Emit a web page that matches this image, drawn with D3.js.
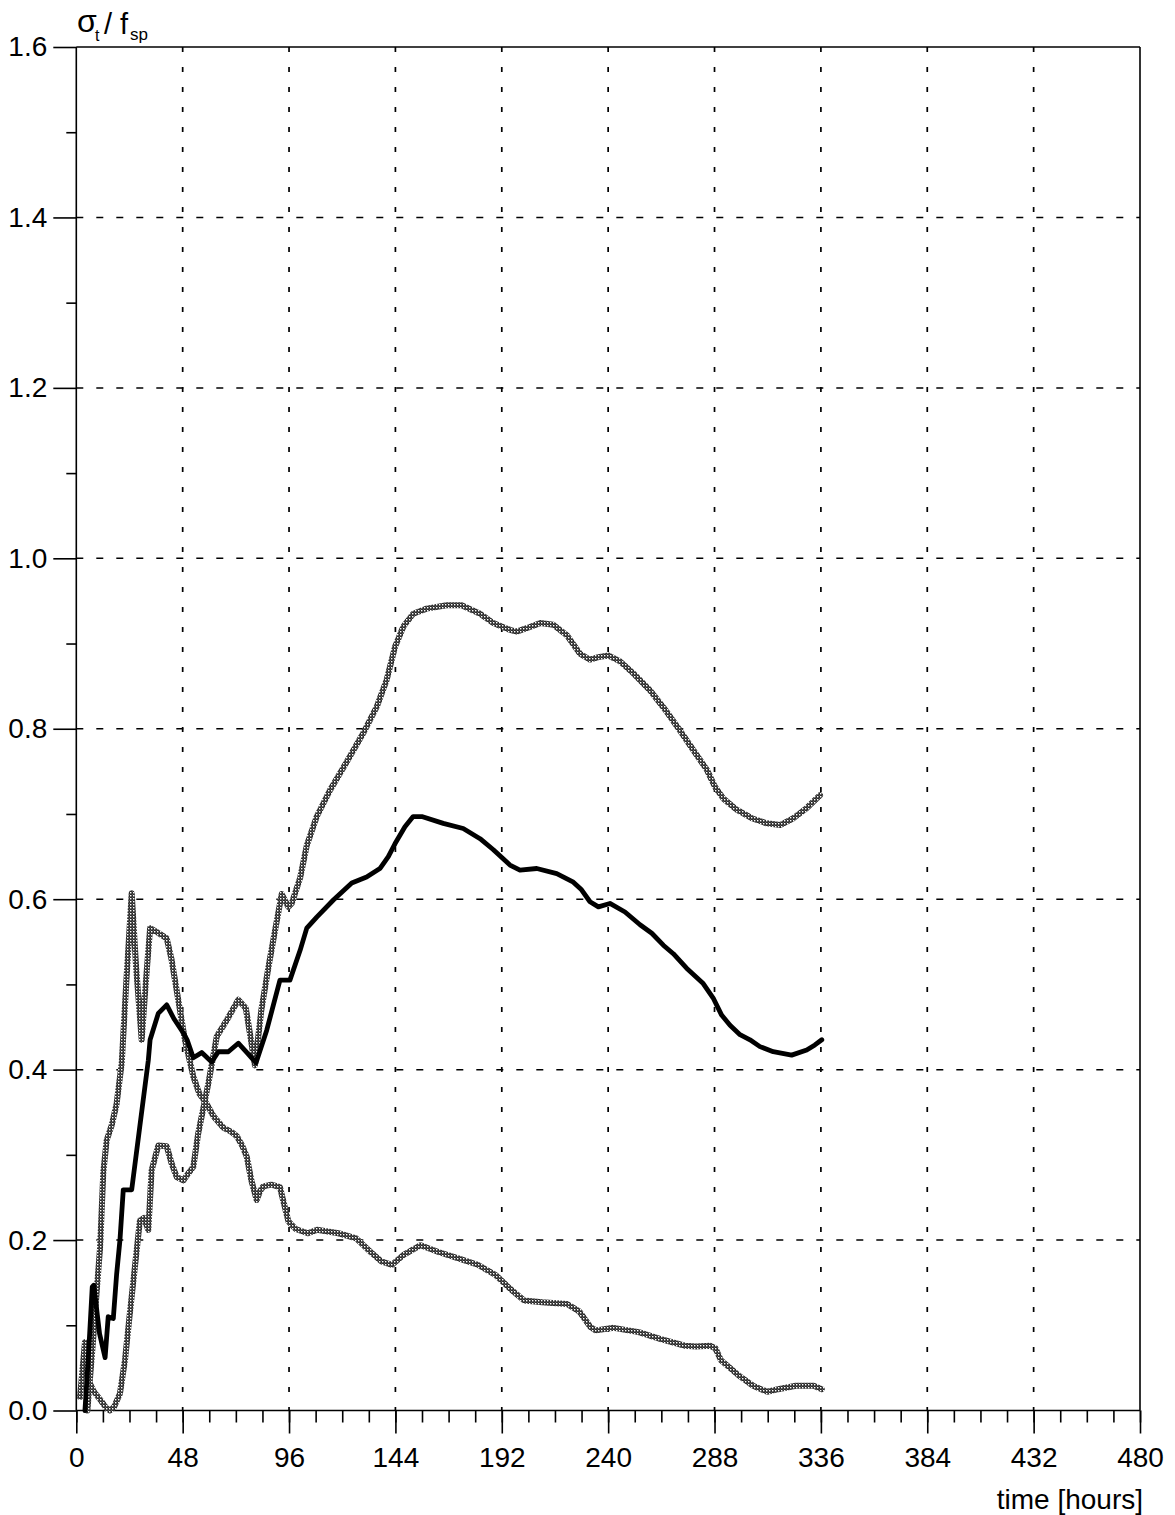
<!DOCTYPE html>
<html>
<head>
<meta charset="utf-8">
<script src="https://cdn.jsdelivr.net/npm/d3@7"></script>
<style>
  html, body { margin: 0; padding: 0; background: #fff; }
  svg { display: block; }
  text { font-family: "Liberation Sans", Arial, sans-serif; fill: #000; }
</style>
</head>
<body>
<svg id="chart" width="1175" height="1515"></svg>
<script>
// Tensile stress ratio sigma_t / f_sp over time (hours)

// Mean curve (bold black)
const timeMean = [3.9, 5.6, 7.2, 7.9, 10.5, 13, 14.4, 16.7, 18.2, 19.7, 21.2, 25, 28.5, 32.5, 33.3, 37, 40.8, 44, 48.3, 50, 52.8, 56.6, 61.1, 64.1, 68.6, 73.1, 77, 81.1, 85.9, 91.9, 96.4, 101, 104, 108.5, 116, 124.3, 131, 137, 140.8, 143.8, 148.3, 152, 155.9, 165.6, 174.6, 182.2, 188.2, 195.7, 200.2, 207.8, 216.8, 224.3, 228, 231.8, 235.6, 240.8, 247.6, 254.4, 259.7, 264.9, 269.4, 275.4, 282.9, 287.4, 291.2, 295, 299.5, 304, 308.5, 314.5, 322.8, 329.6, 333.3, 336.4];
const ratioMean = [0.0, 0.07, 0.145, 0.147, 0.09, 0.062, 0.11, 0.108, 0.16, 0.2, 0.259, 0.259, 0.33, 0.411, 0.435, 0.466, 0.476, 0.46, 0.443, 0.435, 0.414, 0.42, 0.409, 0.421, 0.421, 0.431, 0.42, 0.408, 0.446, 0.505, 0.505, 0.54, 0.566, 0.579, 0.599, 0.619, 0.626, 0.636, 0.65, 0.665, 0.685, 0.697, 0.697, 0.689, 0.683, 0.671, 0.658, 0.64, 0.634, 0.636, 0.63, 0.62, 0.611, 0.597, 0.591, 0.595, 0.585, 0.57, 0.56, 0.546, 0.536, 0.519, 0.501, 0.484, 0.464, 0.452, 0.441, 0.435, 0.427, 0.421, 0.417, 0.423, 0.429, 0.435];

// Upper envelope (grey)
const timeUpper = [1.7, 3.9, 5.5, 8, 11, 13.5, 15.2, 17, 19.7, 22, 24, 26.5, 28.7, 30.5, 32.5, 34, 37, 40.8, 43, 45.3, 48.3, 50.5, 52.8, 55, 59.6, 63.4, 67.9, 73.1, 76.5, 78.5, 80.6, 83.5, 86.7, 88.9, 92.7, 95.7, 97.2, 101, 104, 108.5, 114.5, 122, 129.5, 135.6, 140, 143.8, 147.6, 152, 158.1, 167.1, 173.9, 182.2, 188.2, 195.7, 198.7, 203.2, 209.3, 215.3, 221.3, 227.3, 231.8, 235.6, 240.1, 245.4, 251.4, 258.9, 266.4, 272.4, 278.4, 284.5, 288.2, 292, 298, 304.8, 311.6, 317.6, 323.6, 329.6, 335.6];
const ratioUpper = [0.016, 0.08, 0.035, 0.022, 0.012, 0.003, 0.0, 0.004, 0.02, 0.06, 0.11, 0.17, 0.223, 0.226, 0.212, 0.282, 0.311, 0.31, 0.29, 0.274, 0.27, 0.278, 0.286, 0.325, 0.384, 0.439, 0.458, 0.482, 0.472, 0.44, 0.405, 0.47, 0.52, 0.552, 0.606, 0.591, 0.595, 0.625, 0.663, 0.697, 0.728, 0.761, 0.795, 0.826, 0.857, 0.896, 0.92, 0.935, 0.941, 0.945, 0.945, 0.935, 0.924, 0.916, 0.914, 0.918, 0.924, 0.922, 0.91, 0.888, 0.881, 0.884, 0.886, 0.879, 0.865, 0.845, 0.82, 0.798, 0.775, 0.752, 0.732, 0.718, 0.705, 0.695, 0.689, 0.687, 0.695, 0.707, 0.722];

// Lower envelope (grey)
const timeLower = [5, 7.5, 9.2, 10.7, 12.2, 13.7, 16, 18.2, 20.5, 22.5, 25, 27, 29.5, 31.3, 33.3, 36, 40.8, 43, 46, 49, 52.8, 55.5, 58.8, 62, 66.3, 70, 72.4, 75, 76.9, 79, 81.4, 83, 84.4, 88, 91.9, 93.5, 95.7, 99, 104.5, 108.6, 118.3, 126.3, 132.8, 137.6, 142.5, 147.3, 155.4, 163.4, 173.1, 181.2, 189.2, 195.7, 202.1, 210.2, 221.5, 227.1, 232, 234.4, 242.5, 253.8, 263.4, 274.7, 279.6, 286, 288.4, 290.9, 299, 305.4, 311.8, 316.7, 324.7, 332.8, 336.4];
const ratioLower = [0.0, 0.08, 0.14, 0.19, 0.28, 0.317, 0.335, 0.36, 0.408, 0.5, 0.607, 0.52, 0.435, 0.5, 0.566, 0.562, 0.554, 0.529, 0.482, 0.435, 0.392, 0.372, 0.36, 0.345, 0.332, 0.327, 0.322, 0.31, 0.298, 0.27, 0.247, 0.258, 0.263, 0.265, 0.262, 0.245, 0.222, 0.213, 0.208, 0.212, 0.208, 0.202, 0.186, 0.175, 0.171, 0.182, 0.194, 0.186, 0.178, 0.171, 0.159, 0.143, 0.129, 0.127, 0.125, 0.116, 0.098, 0.094, 0.097, 0.092, 0.084, 0.076, 0.075, 0.076, 0.073, 0.059, 0.041, 0.029, 0.022, 0.025, 0.029, 0.029, 0.025];

// Axis ticks
const xMajorTicks = [0, 48, 96, 144, 192, 240, 288, 336, 384, 432, 480];
const xMinorTicks = d3.range(0, 481, 12);
const yMajorTicks = [0.0, 0.2, 0.4, 0.6, 0.8, 1.0, 1.2, 1.4, 1.6];
const yMinorTicks = [0.1, 0.3, 0.5, 0.7, 0.9, 1.1, 1.3, 1.5];

const svg = d3.select("#chart");

const x = d3.scaleLinear().domain([0, 480]).range([76.3, 1140]);
const y = d3.scaleLinear().domain([0, 1.6]).range([1410.5, 47]);

// Stippled stroke for the envelope curves: dark mesh with small light holes
const defs = svg.append("defs");
const pat = defs.append("pattern")
  .attr("id", "stipple")
  .attr("patternUnits", "userSpaceOnUse")
  .attr("width", 3).attr("height", 3);
pat.append("rect").attr("width", 3).attr("height", 3).attr("fill", "#2a2a2a");
pat.append("rect").attr("x", 1).attr("y", 1).attr("width", 1.4).attr("height", 1.4).attr("fill", "#fff");
pat.append("rect").attr("x", 0).attr("y", 0).attr("width", 0.6).attr("height", 0.6).attr("fill", "#bbb");

// Grid
const grid = svg.append("g");
grid.selectAll("line.vg")
  .data(xMajorTicks.filter(d => d > 0 && d < 480))
  .join("line")
  .attr("x1", d => x(d)).attr("x2", d => x(d))
  .attr("y1", y(1.6)).attr("y2", y(0))
  .attr("stroke", "#000").attr("stroke-width", 1.7)
  .attr("stroke-dasharray", "5,15");
grid.selectAll("line.hg")
  .data(yMajorTicks.filter(d => d > 0 && d < 1.6))
  .join("line")
  .attr("x1", x(0)).attr("x2", x(480))
  .attr("y1", d => y(d)).attr("y2", d => y(d))
  .attr("stroke", "#000").attr("stroke-width", 1.5)
  .attr("stroke-dasharray", "7,13");

// Frame
const frame = svg.append("g").attr("stroke", "#000").attr("stroke-width", 1.6);
frame.append("line").attr("x1", x(0)).attr("x2", x(0)).attr("y1", y(1.6)).attr("y2", y(0));
frame.append("line").attr("x1", x(480)).attr("x2", x(480)).attr("y1", y(1.6)).attr("y2", y(0));
frame.append("line").attr("x1", x(0)).attr("x2", x(480)).attr("y1", y(0)).attr("y2", y(0));
frame.append("line").attr("x1", x(0)).attr("x2", x(480)).attr("y1", y(1.6)).attr("y2", y(1.6));

// Curves
const line = d3.line().x(d => x(d[0])).y(d => y(d[1]));
const curves = svg.append("g").attr("fill", "none")
  .attr("stroke-linejoin", "round").attr("stroke-linecap", "round");

curves.append("path")
  .attr("d", line(d3.zip(timeLower, ratioLower)))
  .attr("stroke", "url(#stipple)").attr("stroke-width", 6);
curves.append("path")
  .attr("d", line(d3.zip(timeUpper, ratioUpper)))
  .attr("stroke", "url(#stipple)").attr("stroke-width", 6);
curves.append("path")
  .attr("d", line(d3.zip(timeMean, ratioMean)))
  .attr("stroke", "#000").attr("stroke-width", 4.8);

// X axis
const xAxisMinor = d3.axisBottom(x).tickValues(xMinorTicks).tickSize(12).tickFormat("");
const xAxisMajor = d3.axisBottom(x).tickValues(xMajorTicks).tickSize(23).tickPadding(14)
  .tickFormat(d3.format("d"));
const gxm = svg.append("g").attr("transform", `translate(0,${y(0)})`).call(xAxisMinor);
const gx = svg.append("g").attr("transform", `translate(0,${y(0)})`).call(xAxisMajor);
[gxm, gx].forEach(g => {
  g.select(".domain").remove();
  g.selectAll(".tick line").attr("stroke", "#000").attr("stroke-width", 1.6);
});
gx.selectAll(".tick text")
  .style("font-family", '"Liberation Sans", Arial, sans-serif')
  .attr("font-size", 28).attr("fill", "#000");

// Y axis
const yAxisMinor = d3.axisLeft(y).tickValues(yMinorTicks).tickSize(10).tickFormat("");
const yAxisMajor = d3.axisLeft(y).tickValues(yMajorTicks).tickSize(23).tickPadding(6)
  .tickFormat(d3.format(".1f"));
const gym = svg.append("g").attr("transform", `translate(${x(0)},0)`).call(yAxisMinor);
const gy = svg.append("g").attr("transform", `translate(${x(0)},0)`).call(yAxisMajor);
[gym, gy].forEach(g => {
  g.select(".domain").remove();
  g.selectAll(".tick line").attr("stroke", "#000").attr("stroke-width", 1.6);
});
gy.selectAll(".tick text")
  .style("font-family", '"Liberation Sans", Arial, sans-serif')
  .attr("font-size", 28).attr("fill", "#000");

// Axis titles
const yt = svg.append("g");
yt.append("text").attr("x", 77).attr("y", 32).attr("font-size", 32).text("σ");
yt.append("text").attr("x", 95).attr("y", 41).attr("font-size", 16).text("t");
yt.append("text").attr("x", 104).attr("y", 34).attr("font-size", 29).text("/");
yt.append("text").attr("x", 120).attr("y", 34).attr("font-size", 29).text("f");
yt.append("text").attr("x", 130).attr("y", 40).attr("font-size", 17).text("sp");

svg.append("text")
  .attr("x", 1143).attr("y", 1509)
  .attr("text-anchor", "end")
  .attr("font-size", 28)
  .text("time [hours]");
</script>
</body>
</html>
